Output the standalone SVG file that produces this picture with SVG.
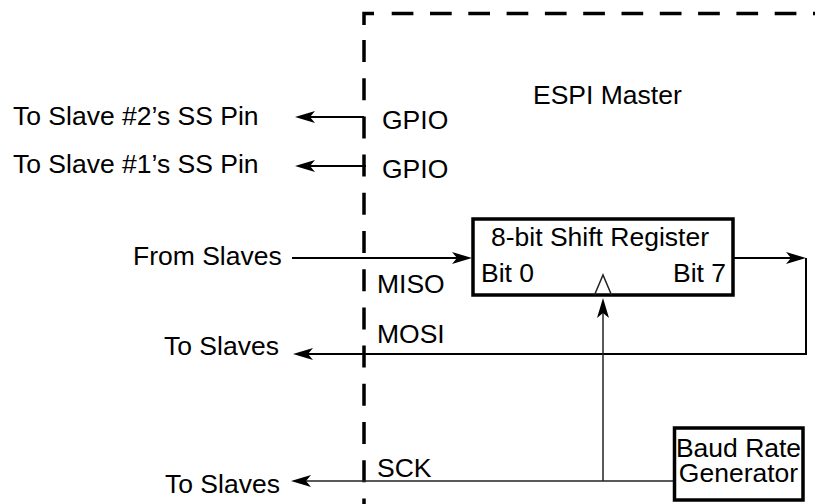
<svg xmlns="http://www.w3.org/2000/svg" width="815" height="504" viewBox="0 0 815 504">
  <style>
    text { font-family: "Liberation Sans", Arial, sans-serif; font-size: 26.5px; fill: #000; }
    .dash { fill: none; stroke: #000; stroke-width: 3.5; }
    .wire { fill: none; stroke: #000; stroke-width: 2; }
    .thin { fill: none; stroke: #222; stroke-width: 1.5; }
    .box { fill: #fff; stroke: #000; stroke-width: 3.5; }
  </style>
  <defs>
    <marker id="arrow" viewBox="-21 -7 21 14" markerWidth="21" markerHeight="14" refX="-10" refY="0" orient="auto" markerUnits="userSpaceOnUse">
      <path d="M-20,-6 L0,0 L-20,6 L-15,0 Z" fill="#000"/>
    </marker>
  </defs>
  <rect width="815" height="504" fill="#fff"/>

  <g id="espi-master-boundary">
    <path class="dash" d="M364,25 V13.5 H374"/>
    <line class="dash" x1="364" y1="40" x2="364" y2="504" stroke-dasharray="22 16.2"/>
    <line class="dash" x1="391.7" y1="13.5" x2="815" y2="13.5" stroke-dasharray="21.7 16.6"/>
    <text x="533" y="104">ESPI Master</text>
  </g>

  <g id="connectors">
    <line class="wire" x1="364" y1="117" x2="305" y2="117" marker-end="url(#arrow)"/>
    <line class="wire" x1="366" y1="166" x2="305" y2="166" marker-end="url(#arrow)"/>
    <line class="wire" x1="292" y1="258" x2="462" y2="258" marker-end="url(#arrow)"/>
    <line class="wire" x1="733" y1="258" x2="796" y2="258" marker-end="url(#arrow)"/>
    <path class="wire" d="M806,258 V354 H303" marker-end="url(#arrow)"/>
    <line class="thin" x1="603" y1="481" x2="603" y2="308" marker-end="url(#arrow)"/>
    <line class="thin" x1="674" y1="481" x2="301" y2="481" marker-end="url(#arrow)"/>
  </g>

  <g id="shift-register">
    <rect class="box" x="473" y="219" width="260" height="76"/>
    <text x="491" y="246">8-bit Shift Register</text>
    <text x="481" y="282">Bit 0</text>
    <text x="726" y="282" text-anchor="end">Bit 7</text>
    <path class="thin" d="M594.5,295 L603,275 L611.5,295"/>
  </g>

  <g id="baud-rate-generator">
    <rect class="box" x="674.5" y="428" width="128.5" height="72" stroke-width="4"/>
    <text x="738.5" y="457" text-anchor="middle" font-size="26">Baud Rate</text>
    <text x="738.5" y="482" text-anchor="middle" font-size="26">Generator</text>
  </g>

  <g id="labels">
    <text x="13" y="125">To Slave #2’s SS Pin</text>
    <text x="382" y="129">GPIO</text>
    <text x="13" y="173">To Slave #1’s SS Pin</text>
    <text x="382" y="178">GPIO</text>
    <text x="133" y="265">From Slaves</text>
    <text x="377" y="293">MISO</text>
    <text x="377" y="343">MOSI</text>
    <text x="164" y="355">To Slaves</text>
    <text x="377" y="477">SCK</text>
    <text x="165" y="493">To Slaves</text>
  </g>
</svg>
